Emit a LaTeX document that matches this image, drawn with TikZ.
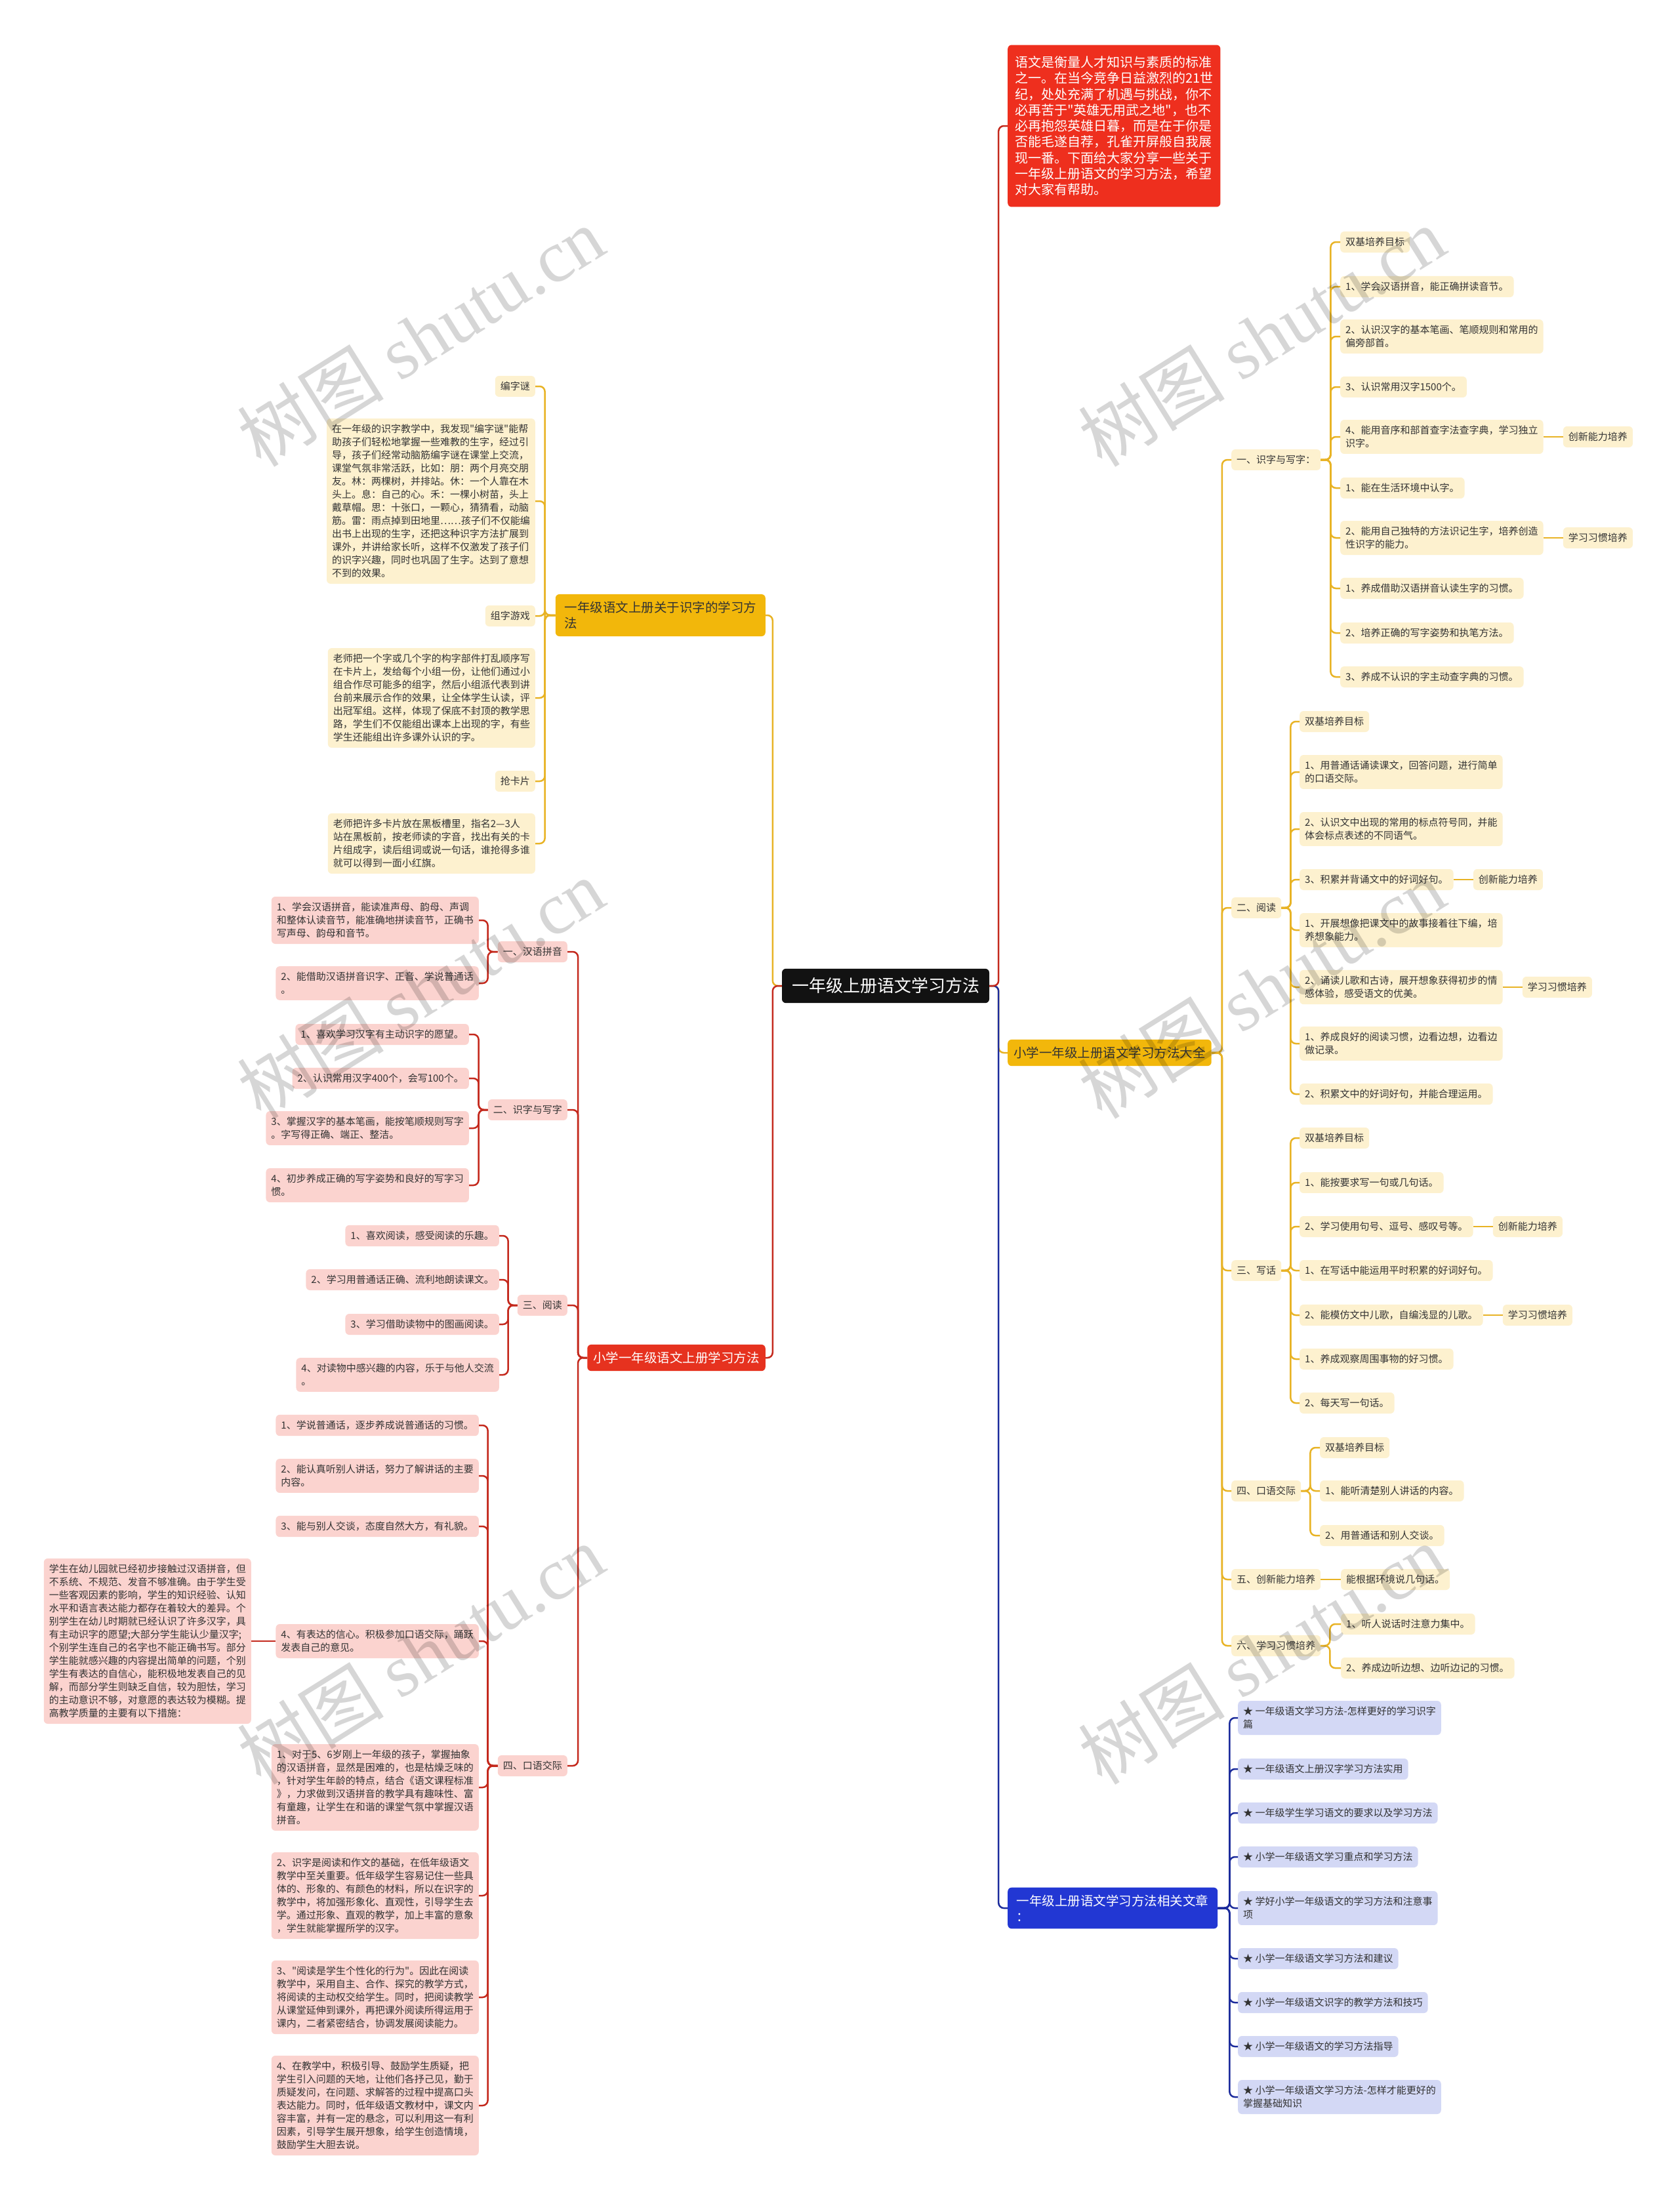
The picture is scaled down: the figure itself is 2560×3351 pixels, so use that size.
\documentclass[tikz,border=0pt]{standalone}
\usepackage{fontspec}
\setmainfont{Noto Sans CJK SC}[Ligatures=TeXOff]
\newfontfamily\wmfont{Liberation Serif}
\usetikzlibrary{positioning}

\definecolor{mmgold}{HTML}{F2B70B}
\definecolor{mmgoldline}{HTML}{E8B325}
\definecolor{mmcream}{HTML}{FDF1CF}
\definecolor{mmred}{HTML}{E6321F}
\definecolor{mmredline}{HTML}{C4291D}
\definecolor{mmpink}{HTML}{FBD3CF}
\definecolor{mmblue}{HTML}{2237D3}
\definecolor{mmblueline}{HTML}{1C2C9C}
\definecolor{mmlav}{HTML}{D3D8F5}
\definecolor{mmintro}{HTML}{EE2F1E}
\definecolor{mmink}{HTML}{333333}

\begin{document}
\begin{tikzpicture}[x=1pt, y=-1pt,
  mmbox/.style={rectangle, rounded corners=6pt, align=left, inner xsep=8pt, inner ysep=9pt, font=\fontsize{15}{20}\selectfont, text=mmink},
  rootbox/.style={mmbox, fill=black!93, text=white, font=\fontsize{26}{30}\selectfont, inner xsep=15pt, inner ysep=14pt},
  introbox/.style={mmbox, fill=mmintro, text=white, font=\fontsize{20}{24.3}\selectfont, inner xsep=11pt, inner ysep=17pt},
  goldbox/.style={mmbox, fill=mmgold, font=\fontsize{19.5}{24}\selectfont, inner xsep=9pt, inner ysep=11pt},
  redbox/.style={goldbox, fill=mmred, text=white},
  bluebox/.style={goldbox, fill=mmblue, text=white},
  ytag/.style={mmbox, fill=mmcream},
  ptag/.style={mmbox, fill=mmpink},
  ltag/.style={mmbox, fill=mmlav},
  link/.style={line width=2.5pt, rounded corners=8pt},
  ylink/.style={link, draw=mmgoldline},
  rlink/.style={link, draw=mmredline},
  blink/.style={link, draw=mmblueline}
]
\fill[white] (0,0) rectangle (2560,3351);
\useasboundingbox (0,0) rectangle (2560,3351);

% root and first level
\node[rootbox] (root) at (1350,1503) {一年级上册语文学习方法};
\node[introbox, anchor=west] (intro) at (1536,192) {语文是衡量人才知识与素质的标准\\之一。在当今竞争日益激烈的21世\\纪，处处充满了机遇与挑战，你不\\必再苦于"英雄无用武之地"，也不\\必再抱怨英雄日暮，而是在于你是\\否能毛遂自荐，孔雀开屏般自我展\\现一番。下面给大家分享一些关于\\一年级上册语文的学习方法，希望\\对大家有帮助。};
\node[goldbox, anchor=west] (allm) at (1536,1605) {小学一年级上册语文学习方法大全};
\node[bluebox, anchor=west, minimum width=320pt] (rel) at (1536,2909) {一年级上册语文学习方法相关文章\\：};
\node[goldbox, anchor=east, minimum width=320pt] (shizi) at (1167,938) {一年级语文上册关于识字的学习方\\法};
\node[redbox, anchor=east] (xxff) at (1167,2070) {小学一年级语文上册学习方法};

\draw[ylink] (root.east) -- ++(14,0) |- (allm.west);
\draw[blink] (root.east) -- ++(14,0) |- (rel.west);
\draw[rlink] (root.east) -- ++(14,0) |- (intro.west);
\draw[ylink] (root.west) -- ++(-14,0) |- (shizi.east);
\draw[rlink] (root.west) -- ++(-14,0) |- (xxff.east);

% right: 大全
\node[ytag, anchor=west] (r1) at (1877,701) {一、识字与写字：};
\node[ytag, anchor=west] (r2) at (1877,1384) {二、阅读};
\node[ytag, anchor=west] (r3) at (1877,1937) {三、写话};
\node[ytag, anchor=west] (r4) at (1877,2273) {四、口语交际};
\node[ytag, anchor=west] (r5) at (1877,2408) {五、创新能力培养};
\node[ytag, anchor=west] (r6) at (1877,2509) {六、学习习惯培养};
\foreach \c in {r1,r2,r3,r4,r5,r6}
  \draw[ylink] (allm.east) -- ++(16,0) |- (\c.west);

\node[ytag, anchor=west] (r1a) at (2043,369) {双基培养目标};
\node[ytag, anchor=west] (r1b) at (2043,437) {1、学会汉语拼音，能正确拼读音节。};
\node[ytag, anchor=west] (r1c) at (2043,513) {2、认识汉字的基本笔画、笔顺规则和常用的\\偏旁部首。};
\node[ytag, anchor=west] (r1d) at (2043,590) {3、认识常用汉字1500个。};
\node[ytag, anchor=west] (r1e) at (2043,666) {4、能用音序和部首查字法查字典，学习独立\\识字。};
\node[ytag, anchor=west] (r1f) at (2043,744) {1、能在生活环境中认字。};
\node[ytag, anchor=west] (r1g) at (2043,820) {2、能用自己独特的方法识记生字，培养创造\\性识字的能力。};
\node[ytag, anchor=west] (r1h) at (2043,897) {1、养成借助汉语拼音认读生字的习惯。};
\node[ytag, anchor=west] (r1i) at (2043,965) {2、培养正确的写字姿势和执笔方法。};
\node[ytag, anchor=west] (r1j) at (2043,1032) {3、养成不认识的字主动查字典的习惯。};
\node[ytag, right=30pt of r1e] (r1ex) {创新能力培养};
\node[ytag, right=30pt of r1g] (r1gx) {学习习惯培养};
\foreach \c in {r1a,r1b,r1c,r1d,r1e,r1f,r1g,r1h,r1i,r1j}
  \draw[ylink] (r1.east) -- ++(15,0) |- (\c.west);
\draw[ylink] (r1e.east) -- (r1ex.west);
\draw[ylink] (r1g.east) -- (r1gx.west);

\node[ytag, anchor=west] (r2a) at (1981,1100) {双基培养目标};
\node[ytag, anchor=west] (r2b) at (1981,1177) {1、用普通话诵读课文，回答问题，进行简单\\的口语交际。};
\node[ytag, anchor=west] (r2c) at (1981,1264) {2、认识文中出现的常用的标点符号同，并能\\体会标点表述的不同语气。};
\node[ytag, anchor=west] (r2d) at (1981,1341) {3、积累并背诵文中的好词好句。};
\node[ytag, anchor=west] (r2e) at (1981,1418) {1、开展想像把课文中的故事接着往下编，培\\养想象能力。};
\node[ytag, anchor=west] (r2f) at (1981,1505) {2、诵读儿歌和古诗，展开想象获得初步的情\\感体验，感受语文的优美。};
\node[ytag, anchor=west] (r2g) at (1981,1591) {1、养成良好的阅读习惯，边看边想，边看边\\做记录。};
\node[ytag, anchor=west] (r2h) at (1981,1668) {2、积累文中的好词好句，并能合理运用。};
\node[ytag, right=30pt of r2d] (r2dx) {创新能力培养};
\node[ytag, right=30pt of r2f] (r2fx) {学习习惯培养};
\foreach \c in {r2a,r2b,r2c,r2d,r2e,r2f,r2g,r2h}
  \draw[ylink] (r2.east) -- ++(14,0) |- (\c.west);
\draw[ylink] (r2d.east) -- (r2dx.west);
\draw[ylink] (r2f.east) -- (r2fx.west);

\node[ytag, anchor=west] (r3a) at (1981,1735) {双基培养目标};
\node[ytag, anchor=west] (r3b) at (1981,1803) {1、能按要求写一句或几句话。};
\node[ytag, anchor=west] (r3c) at (1981,1870) {2、学习使用句号、逗号、感叹号等。};
\node[ytag, anchor=west] (r3d) at (1981,1937) {1、在写话中能运用平时积累的好词好句。};
\node[ytag, anchor=west] (r3e) at (1981,2005) {2、能模仿文中儿歌，自编浅显的儿歌。};
\node[ytag, anchor=west] (r3f) at (1981,2072) {1、养成观察周围事物的好习惯。};
\node[ytag, anchor=west] (r3g) at (1981,2139) {2、每天写一句话。};
\node[ytag, right=30pt of r3c] (r3cx) {创新能力培养};
\node[ytag, right=30pt of r3e] (r3ex) {学习习惯培养};
\foreach \c in {r3a,r3b,r3c,r3d,r3e,r3f,r3g}
  \draw[ylink] (r3.east) -- ++(14,0) |- (\c.west);
\draw[ylink] (r3c.east) -- (r3cx.west);
\draw[ylink] (r3e.east) -- (r3ex.west);

\node[ytag, anchor=west] (r4a) at (2012,2207) {双基培养目标};
\node[ytag, anchor=west] (r4b) at (2012,2273) {1、能听清楚别人讲话的内容。};
\node[ytag, anchor=west] (r4c) at (2012,2341) {2、用普通话和别人交谈。};
\foreach \c in {r4a,r4b,r4c}
  \draw[ylink] (r4.east) -- ++(14,0) |- (\c.west);

\node[ytag, anchor=west] (r5a) at (2044,2408) {能根据环境说几句话。};
\draw[ylink] (r5.east) -- (r5a.west);

\node[ytag, anchor=west] (r6a) at (2044,2476) {1、听人说话时注意力集中。};
\node[ytag, anchor=west] (r6b) at (2044,2543) {2、养成边听边想、边听边记的习惯。};
\foreach \c in {r6a,r6b}
  \draw[ylink] (r6.east) -- ++(14,0) |- (\c.west);

% right: related articles
\node[ltag, anchor=west] (b1) at (1887,2619) {★ 一年级语文学习方法-怎样更好的学习识字\\篇};
\node[ltag, anchor=west] (b2) at (1887,2697) {★ 一年级语文上册汉字学习方法实用};
\node[ltag, anchor=west] (b3) at (1887,2764) {★ 一年级学生学习语文的要求以及学习方法};
\node[ltag, anchor=west] (b4) at (1887,2831) {★ 小学一年级语文学习重点和学习方法};
\node[ltag, anchor=west] (b5) at (1887,2909) {★ 学好小学一年级语文的学习方法和注意事\\项};
\node[ltag, anchor=west] (b6) at (1887,2986) {★ 小学一年级语文学习方法和建议};
\node[ltag, anchor=west] (b7) at (1887,3053) {★ 小学一年级语文识字的教学方法和技巧};
\node[ltag, anchor=west] (b8) at (1887,3120) {★ 小学一年级语文的学习方法指导};
\node[ltag, anchor=west] (b9) at (1887,3197) {★ 小学一年级语文学习方法-怎样才能更好的\\掌握基础知识};
\foreach \c in {b1,b2,b3,b4,b5,b6,b7,b8,b9}
  \draw[blink] (rel.east) -- ++(18,0) |- (\c.west);

% left: 识字方法
\node[ytag, anchor=east] (s1) at (816,589) {编字谜};
\node[ytag, anchor=east] (s2) at (816,764) {在一年级的识字教学中，我发现"编字谜"能帮\\助孩子们轻松地掌握一些难教的生字，经过引\\导，孩子们经常动脑筋编字谜在课堂上交流，\\课堂气氛非常活跃，比如：朋：两个月亮交朋\\友。林：两棵树，并排站。休：一个人靠在木\\头上。息：自己的心。禾：一棵小树苗，头上\\戴草帽。思：十张口，一颗心，猜猜看，动脑\\筋。雷：雨点掉到田地里……孩子们不仅能编\\出书上出现的生字，还把这种识字方法扩展到\\课外，并讲给家长听，这样不仅激发了孩子们\\的识字兴趣，同时也巩固了生字。达到了意想\\不到的效果。};
\node[ytag, anchor=east] (s3) at (816,939) {组字游戏};
\node[ytag, anchor=east] (s4) at (816,1064) {老师把一个字或几个字的构字部件打乱顺序写\\在卡片上，发给每个小组一份，让他们通过小\\组合作尽可能多的组字，然后小组派代表到讲\\台前来展示合作的效果，让全体学生认读，评\\出冠军组。这样，体现了保底不封顶的教学思\\路，学生们不仅能组出课本上出现的字，有些\\学生还能组出许多课外认识的字。};
\node[ytag, anchor=east] (s5) at (816,1191) {抢卡片};
\node[ytag, anchor=east] (s6) at (816,1286) {老师把许多卡片放在黑板槽里，指名2—3人\\站在黑板前，按老师读的字音，找出有关的卡\\片组成字，读后组词或说一句话，谁抢得多谁\\就可以得到一面小红旗。};
\foreach \c in {s1,s2,s3,s4,s5,s6}
  \draw[ylink] (shizi.west) -- ++(-16,0) |- (\c.east);

% left: 学习方法
\node[ptag, anchor=east] (p1) at (865,1451) {一、汉语拼音};
\node[ptag, anchor=east] (p2) at (865,1692) {二、识字与写字};
\node[ptag, anchor=east] (p3) at (865,1990) {三、阅读};
\node[ptag, anchor=east] (p4) at (865,2692) {四、口语交际};
\foreach \c in {p1,p2,p3,p4}
  \draw[rlink] (xxff.west) -- ++(-14,0) |- (\c.east);

\node[ptag, anchor=east] (p1a) at (730,1403) {1、学会汉语拼音，能读准声母、韵母、声调\\和整体认读音节，能准确地拼读音节，正确书\\写声母、韵母和音节。};
\node[ptag, anchor=east] (p1b) at (730,1499) {2、能借助汉语拼音识字、正音、学说普通话\\。};
\foreach \c in {p1a,p1b}
  \draw[rlink] (p1.west) -- ++(-15,0) |- (\c.east);

\node[ptag, anchor=east] (p2a) at (715,1577) {1、喜欢学习汉字有主动识字的愿望。};
\node[ptag, anchor=east] (p2b) at (715,1644) {2、认识常用汉字400个，会写100个。};
\node[ptag, anchor=east] (p2c) at (715,1720) {3、掌握汉字的基本笔画，能按笔顺规则写字\\。字写得正确、端正、整洁。};
\node[ptag, anchor=east] (p2d) at (715,1807) {4、初步养成正确的写字姿势和良好的写字习\\惯。};
\foreach \c in {p2a,p2b,p2c,p2d}
  \draw[rlink] (p2.west) -- ++(-14,0) |- (\c.east);

\node[ptag, anchor=east] (p3a) at (761,1884) {1、喜欢阅读，感受阅读的乐趣。};
\node[ptag, anchor=east] (p3b) at (761,1951) {2、学习用普通话正确、流利地朗读课文。};
\node[ptag, anchor=east] (p3c) at (761,2019) {3、学习借助读物中的图画阅读。};
\node[ptag, anchor=east] (p3d) at (761,2096) {4、对读物中感兴趣的内容，乐于与他人交流\\。};
\foreach \c in {p3a,p3b,p3c,p3d}
  \draw[rlink] (p3.west) -- ++(-14,0) |- (\c.east);

\node[ptag, anchor=east] (p4a) at (730,2173) {1、学说普通话，逐步养成说普通话的习惯。};
\node[ptag, anchor=east] (p4b) at (730,2250) {2、能认真听别人讲话，努力了解讲话的主要\\内容。};
\node[ptag, anchor=east] (p4c) at (730,2327) {3、能与别人交谈，态度自然大方，有礼貌。};
\node[ptag, anchor=east] (p4d) at (730,2502) {4、有表达的信心。积极参加口语交际，踊跃\\发表自己的意见。};
\node[ptag, anchor=east] (p4e) at (730,2725) {1、对于5、6岁刚上一年级的孩子，掌握抽象\\的汉语拼音，显然是困难的，也是枯燥乏味的\\，针对学生年龄的特点，结合《语文课程标准\\》，力求做到汉语拼音的教学具有趣味性、富\\有童趣，让学生在和谐的课堂气氛中掌握汉语\\拼音。};
\node[ptag, anchor=east] (p4f) at (730,2890) {2、识字是阅读和作文的基础，在低年级语文\\教学中至关重要。低年级学生容易记住一些具\\体的、形象的、有颜色的材料，所以在识字的\\教学中，将加强形象化、直观性，引导学生去\\学。通过形象、直观的教学，加上丰富的意象\\，学生就能掌握所学的汉字。};
\node[ptag, anchor=east] (p4g) at (730,3045) {3、"阅读是学生个性化的行为"。因此在阅读\\教学中，采用自主、合作、探究的教学方式，\\将阅读的主动权交给学生。同时，把阅读教学\\从课堂延伸到课外，再把课外阅读所得运用于\\课内，二者紧密结合，协调发展阅读能力。};
\node[ptag, anchor=east] (p4h) at (730,3210) {4、在教学中，积极引导、鼓励学生质疑，把\\学生引入问题的天地，让他们各抒己见，勤于\\质疑发问，在问题、求解答的过程中提高口头\\表达能力。同时，低年级语文教材中，课文内\\容丰富，并有一定的悬念，可以利用这一有利\\因素，引导学生展开想象，给学生创造情境，\\鼓励学生大胆去说。};
\node[ptag, anchor=east] (p4dx) at (383,2502) {学生在幼儿园就已经初步接触过汉语拼音，但\\不系统、不规范、发音不够准确。由于学生受\\一些客观因素的影响，学生的知识经验、认知\\水平和语言表达能力都存在着较大的差异。个\\别学生在幼儿时期就已经认识了许多汉字，具\\有主动识字的愿望;大部分学生能认少量汉字;\\个别学生连自己的名字也不能正确书写。部分\\学生能就感兴趣的内容提出简单的问题，个别\\学生有表达的自信心，能积极地发表自己的见\\解，而部分学生则缺乏自信，较为胆怯，学习\\的主动意识不够，对意愿的表达较为模糊。提\\高教学质量的主要有以下措施：};
\foreach \c in {p4a,p4b,p4c,p4d,p4e,p4f,p4g,p4h}
  \draw[rlink] (p4.west) -- ++(-15,0) |- (\c.east);
\draw[rlink] (p4d.west) -- (p4dx.east);

% watermark
\foreach \wx/\wy [count=\i] in {641/513, 1923/513, 641/1507, 1923/1507, 641/2522, 1923/2522}
  \node[rotate=32, text=black, text opacity=0.16, font=\fontsize{112}{112}\selectfont] (wm\i) at (\wx,\wy) {树图 {\wmfont shutu.cn}};
\end{tikzpicture}
\end{document}
